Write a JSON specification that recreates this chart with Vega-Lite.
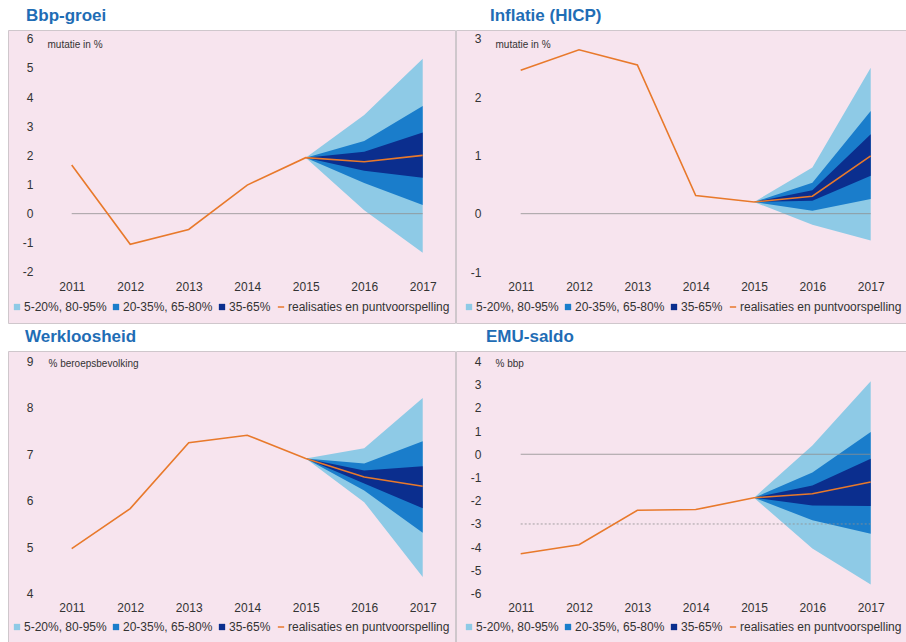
{
  "$schema": "https://vega.github.io/schema/vega-lite/v6.json",
  "padding": {"left": 7, "top": 6, "right": 0, "bottom": 0},
  "background": "white",
  "columns": 2,
  "spacing": {"row": 28, "column": 1},
  "bounds": "flush",
  "resolve": {"scale": {"color": "independent"}, "legend": {"color": "independent"}},
  "datasets": {
    "bbp": [
      {"year": 2011, "value": 1.67, "p5": null, "p20": null, "p35": null, "p65": null, "p80": null, "p95": null},
      {"year": 2012, "value": -1.05, "p5": null, "p20": null, "p35": null, "p65": null, "p80": null, "p95": null},
      {"year": 2013, "value": -0.54, "p5": null, "p20": null, "p35": null, "p65": null, "p80": null, "p95": null},
      {"year": 2014, "value": 0.98, "p5": null, "p20": null, "p35": null, "p65": null, "p80": null, "p95": null},
      {"year": 2015, "value": 1.92, "p5": 1.92, "p20": 1.92, "p35": 1.92, "p65": 1.92, "p80": 1.92, "p95": 1.92},
      {"year": 2016, "value": 1.78, "p5": 0.12, "p20": 1.05, "p35": 1.47, "p65": 2.12, "p80": 2.49, "p95": 3.38},
      {"year": 2017, "value": 2.0, "p5": -1.34, "p20": 0.3, "p35": 1.23, "p65": 2.78, "p80": 3.69, "p95": 5.31}
    ],
    "hicp": [
      {"year": 2011, "value": 2.46, "p5": null, "p20": null, "p35": null, "p65": null, "p80": null, "p95": null},
      {"year": 2012, "value": 2.81, "p5": null, "p20": null, "p35": null, "p65": null, "p80": null, "p95": null},
      {"year": 2013, "value": 2.55, "p5": null, "p20": null, "p35": null, "p65": null, "p80": null, "p95": null},
      {"year": 2014, "value": 0.31, "p5": null, "p20": null, "p35": null, "p65": null, "p80": null, "p95": null},
      {"year": 2015, "value": 0.2, "p5": 0.2, "p20": 0.2, "p35": 0.2, "p65": 0.2, "p80": 0.2, "p95": 0.2},
      {"year": 2016, "value": 0.3, "p5": -0.19, "p20": 0.05, "p35": 0.22, "p65": 0.4, "p80": 0.53, "p95": 0.79},
      {"year": 2017, "value": 0.99, "p5": -0.46, "p20": 0.25, "p35": 0.65, "p65": 1.36, "p80": 1.76, "p95": 2.5}
    ],
    "werk": [
      {"year": 2011, "value": 4.97, "p5": null, "p20": null, "p35": null, "p65": null, "p80": null, "p95": null},
      {"year": 2012, "value": 5.83, "p5": null, "p20": null, "p35": null, "p65": null, "p80": null, "p95": null},
      {"year": 2013, "value": 7.25, "p5": null, "p20": null, "p35": null, "p65": null, "p80": null, "p95": null},
      {"year": 2014, "value": 7.41, "p5": null, "p20": null, "p35": null, "p65": null, "p80": null, "p95": null},
      {"year": 2015, "value": 6.91, "p5": 6.91, "p20": 6.91, "p35": 6.91, "p65": 6.91, "p80": 6.91, "p95": 6.91},
      {"year": 2016, "value": 6.51, "p5": 5.97, "p20": 6.22, "p35": 6.37, "p65": 6.65, "p80": 6.8, "p95": 7.13},
      {"year": 2017, "value": 6.31, "p5": 4.36, "p20": 5.31, "p35": 5.84, "p65": 6.74, "p80": 7.28, "p95": 8.21}
    ],
    "emu": [
      {"year": 2011, "value": -4.28, "p5": null, "p20": null, "p35": null, "p65": null, "p80": null, "p95": null},
      {"year": 2012, "value": -3.89, "p5": null, "p20": null, "p35": null, "p65": null, "p80": null, "p95": null},
      {"year": 2013, "value": -2.41, "p5": null, "p20": null, "p35": null, "p65": null, "p80": null, "p95": null},
      {"year": 2014, "value": -2.38, "p5": null, "p20": null, "p35": null, "p65": null, "p80": null, "p95": null},
      {"year": 2015, "value": -1.87, "p5": -1.87, "p20": -1.87, "p35": -1.87, "p65": -1.87, "p80": -1.87, "p95": -1.87},
      {"year": 2016, "value": -1.7, "p5": -4.06, "p20": -2.84, "p35": -2.2, "p65": -1.34, "p80": -0.79, "p95": 0.38},
      {"year": 2017, "value": -1.19, "p5": -5.6, "p20": -3.42, "p35": -2.23, "p65": -0.19, "p80": 0.96, "p95": 3.14}
    ],
    "ref0": [{"ref": 0, "from": 2011, "to": 2017}],
    "refm3": [{"ref": -3, "from": 2011, "to": 2017}]
  },
  "concat": [
    {
      "title": {"text": "Bbp-groei", "dx": 18},
      "width": 447,
      "height": 293,
      "data": {"name": "bbp"},
      "layer": [
        {
          "transform": [{"filter": "datum.p5 != null"}],
          "mark": {"type": "area"},
          "encoding": {
            "x": {"field": "year", "type": "quantitative", "scale": {"domain": [2009.911, 2017.552], "nice": false, "zero": false},
              "axis": {"values": [2011, 2012, 2013, 2014, 2015, 2016, 2017], "tickCount": 7, "format": "d", "offset": -37, "labelPadding": 0, "tickSize": 0, "labelBaseline": "middle", "title": null, "labelOverlap": false}},
            "y": {"field": "p5", "type": "quantitative", "scale": {"domain": [-3.749, 6.298], "nice": false, "zero": false},
              "axis": {"values": [-2, -1, 0, 1, 2, 3, 4, 5, 6], "tickCount": 9, "labelOverlap": false, "offset": -27, "labelPadding": 2, "tickSize": 0, "labelExpr": "'' + datum.value", "title": "mutatie in %", "titleX": 12, "titleY": 14}},
            "y2": {"field": "p95"},
            "color": {"datum": "5-20%, 80-95%", "type": "nominal",
              "scale": {"domain": ["5-20%, 80-95%", "20-35%, 65-80%", "35-65%", "realisaties en puntvoorspelling"], "range": ["#8ecae6", "#1a7dcb", "#0b2e8e", "#e8792b"]},
              "legend": {"title": null, "legendX": 3, "legendY": 271, "encode": {"symbols": {"update": {
                "shape": {"signal": "datum.value === 'realisaties en puntvoorspelling' ? 'stroke' : 'square'"},
                "fill": {"signal": "datum.value === '35-65%' ? '#0b2e8e' : datum.value === '20-35%, 65-80%' ? '#1a7dcb' : datum.value === '5-20%, 80-95%' ? '#8ecae6' : 'transparent'"},
                "stroke": {"signal": "datum.value === 'realisaties en puntvoorspelling' ? '#e8792b' : 'transparent'"},
                "strokeWidth": {"signal": "datum.value === 'realisaties en puntvoorspelling' ? 1.5 : 0"}}}}}}
          }
        },
        {
          "transform": [{"filter": "datum.p5 != null"}],
          "mark": {"type": "area"},
          "encoding": {"x": {"field": "year", "type": "quantitative"}, "y": {"field": "p20", "type": "quantitative"}, "y2": {"field": "p80"}, "color": {"datum": "20-35%, 65-80%", "type": "nominal"}}
        },
        {
          "transform": [{"filter": "datum.p5 != null"}],
          "mark": {"type": "area"},
          "encoding": {"x": {"field": "year", "type": "quantitative"}, "y": {"field": "p35", "type": "quantitative"}, "y2": {"field": "p65"}, "color": {"datum": "35-65%", "type": "nominal"}}
        },
        {
          "data": {"name": "ref0"},
          "mark": {"type": "rule", "color": "#8f8f8f", "strokeWidth": 0.8},
          "encoding": {"x": {"field": "from", "type": "quantitative"}, "x2": {"field": "to"}, "y": {"field": "ref", "type": "quantitative"}}
        },
        {
          "mark": {"type": "line", "strokeWidth": 1.6},
          "encoding": {"x": {"field": "year", "type": "quantitative"}, "y": {"field": "value", "type": "quantitative"}, "color": {"datum": "realisaties en puntvoorspelling", "type": "nominal"}}
        }
      ]
    },
    {
      "title": {"text": "Inflatie (HICP)", "dx": 34},
      "width": 451,
      "height": 293,
      "data": {"name": "hicp"},
      "layer": [
        {
          "transform": [{"filter": "datum.p5 != null"}],
          "mark": {"type": "area"},
          "encoding": {
            "x": {"field": "year", "type": "quantitative", "scale": {"domain": [2009.891, 2017.622], "nice": false, "zero": false},
              "axis": {"values": [2011, 2012, 2013, 2014, 2015, 2016, 2017], "tickCount": 7, "format": "d", "offset": -37, "labelPadding": 0, "tickSize": 0, "labelBaseline": "middle", "title": null, "labelOverlap": false}},
            "y": {"field": "p5", "type": "quantitative", "scale": {"domain": [-1.874, 3.149], "nice": false, "zero": false},
              "axis": {"values": [-1, 0, 1, 2, 3], "tickCount": 5, "labelOverlap": false, "offset": -27, "labelPadding": 2, "tickSize": 0, "labelExpr": "'' + datum.value", "title": "mutatie in %", "titleX": 12, "titleY": 14}},
            "y2": {"field": "p95"},
            "color": {"datum": "5-20%, 80-95%", "type": "nominal",
              "scale": {"domain": ["5-20%, 80-95%", "20-35%, 65-80%", "35-65%", "realisaties en puntvoorspelling"], "range": ["#8ecae6", "#1a7dcb", "#0b2e8e", "#e8792b"]},
              "legend": {"title": null, "legendX": 7, "legendY": 271, "encode": {"symbols": {"update": {
                "shape": {"signal": "datum.value === 'realisaties en puntvoorspelling' ? 'stroke' : 'square'"},
                "fill": {"signal": "datum.value === '35-65%' ? '#0b2e8e' : datum.value === '20-35%, 65-80%' ? '#1a7dcb' : datum.value === '5-20%, 80-95%' ? '#8ecae6' : 'transparent'"},
                "stroke": {"signal": "datum.value === 'realisaties en puntvoorspelling' ? '#e8792b' : 'transparent'"},
                "strokeWidth": {"signal": "datum.value === 'realisaties en puntvoorspelling' ? 1.5 : 0"}}}}}}
          }
        },
        {
          "transform": [{"filter": "datum.p5 != null"}],
          "mark": {"type": "area"},
          "encoding": {"x": {"field": "year", "type": "quantitative"}, "y": {"field": "p20", "type": "quantitative"}, "y2": {"field": "p80"}, "color": {"datum": "20-35%, 65-80%", "type": "nominal"}}
        },
        {
          "transform": [{"filter": "datum.p5 != null"}],
          "mark": {"type": "area"},
          "encoding": {"x": {"field": "year", "type": "quantitative"}, "y": {"field": "p35", "type": "quantitative"}, "y2": {"field": "p65"}, "color": {"datum": "35-65%", "type": "nominal"}}
        },
        {
          "data": {"name": "ref0"},
          "mark": {"type": "rule", "color": "#8f8f8f", "strokeWidth": 0.8},
          "encoding": {"x": {"field": "from", "type": "quantitative"}, "x2": {"field": "to"}, "y": {"field": "ref", "type": "quantitative"}}
        },
        {
          "mark": {"type": "line", "strokeWidth": 1.6},
          "encoding": {"x": {"field": "year", "type": "quantitative"}, "y": {"field": "value", "type": "quantitative"}, "color": {"datum": "realisaties en puntvoorspelling", "type": "nominal"}}
        }
      ]
    },
    {
      "title": {"text": "Werkloosheid", "dx": 17},
      "width": 447,
      "height": 292,
      "data": {"name": "werk"},
      "layer": [
        {
          "transform": [{"filter": "datum.p5 != null"}],
          "mark": {"type": "area"},
          "encoding": {
            "x": {"field": "year", "type": "quantitative", "scale": {"domain": [2009.911, 2017.552], "nice": false, "zero": false},
              "axis": {"values": [2011, 2012, 2013, 2014, 2015, 2016, 2017], "tickCount": 7, "format": "d", "offset": -36, "labelPadding": 0, "tickSize": 0, "labelBaseline": "middle", "title": null, "labelOverlap": false}},
            "y": {"field": "p5", "type": "quantitative", "scale": {"domain": [2.939, 9.222], "nice": false, "zero": false},
              "axis": {"values": [4, 5, 6, 7, 8, 9], "tickCount": 6, "labelOverlap": false, "offset": -27, "labelPadding": 2, "tickSize": 0, "labelExpr": "'' + datum.value", "title": "% beroepsbevolking", "titleX": 13, "titleY": 12}},
            "y2": {"field": "p95"},
            "color": {"datum": "5-20%, 80-95%", "type": "nominal",
              "scale": {"domain": ["5-20%, 80-95%", "20-35%, 65-80%", "35-65%", "realisaties en puntvoorspelling"], "range": ["#8ecae6", "#1a7dcb", "#0b2e8e", "#e8792b"]},
              "legend": {"title": null, "legendX": 3, "legendY": 270, "encode": {"symbols": {"update": {
                "shape": {"signal": "datum.value === 'realisaties en puntvoorspelling' ? 'stroke' : 'square'"},
                "fill": {"signal": "datum.value === '35-65%' ? '#0b2e8e' : datum.value === '20-35%, 65-80%' ? '#1a7dcb' : datum.value === '5-20%, 80-95%' ? '#8ecae6' : 'transparent'"},
                "stroke": {"signal": "datum.value === 'realisaties en puntvoorspelling' ? '#e8792b' : 'transparent'"},
                "strokeWidth": {"signal": "datum.value === 'realisaties en puntvoorspelling' ? 1.5 : 0"}}}}}}
          }
        },
        {
          "transform": [{"filter": "datum.p5 != null"}],
          "mark": {"type": "area"},
          "encoding": {"x": {"field": "year", "type": "quantitative"}, "y": {"field": "p20", "type": "quantitative"}, "y2": {"field": "p80"}, "color": {"datum": "20-35%, 65-80%", "type": "nominal"}}
        },
        {
          "transform": [{"filter": "datum.p5 != null"}],
          "mark": {"type": "area"},
          "encoding": {"x": {"field": "year", "type": "quantitative"}, "y": {"field": "p35", "type": "quantitative"}, "y2": {"field": "p65"}, "color": {"datum": "35-65%", "type": "nominal"}}
        },
        {
          "mark": {"type": "line", "strokeWidth": 1.6},
          "encoding": {"x": {"field": "year", "type": "quantitative"}, "y": {"field": "value", "type": "quantitative"}, "color": {"datum": "realisaties en puntvoorspelling", "type": "nominal"}}
        }
      ]
    },
    {
      "title": {"text": "EMU-saldo", "dx": 30},
      "width": 451,
      "height": 292,
      "data": {"name": "emu"},
      "layer": [
        {
          "transform": [{"filter": "datum.p5 != null"}],
          "mark": {"type": "area"},
          "encoding": {
            "x": {"field": "year", "type": "quantitative", "scale": {"domain": [2009.891, 2017.622], "nice": false, "zero": false},
              "axis": {"values": [2011, 2012, 2013, 2014, 2015, 2016, 2017], "tickCount": 7, "format": "d", "offset": -36, "labelPadding": 0, "tickSize": 0, "labelBaseline": "middle", "title": null, "labelOverlap": false}},
            "y": {"field": "p5", "type": "quantitative", "scale": {"domain": [-8.121, 4.443], "nice": false, "zero": false},
              "axis": {"values": [-6, -5, -4, -3, -2, -1, 0, 1, 2, 3, 4], "tickCount": 11, "labelOverlap": false, "offset": -27, "labelPadding": 2, "tickSize": 0, "labelExpr": "'' + datum.value", "title": "% bbp", "titleX": 12, "titleY": 12}},
            "y2": {"field": "p95"},
            "color": {"datum": "5-20%, 80-95%", "type": "nominal",
              "scale": {"domain": ["5-20%, 80-95%", "20-35%, 65-80%", "35-65%", "realisaties en puntvoorspelling"], "range": ["#8ecae6", "#1a7dcb", "#0b2e8e", "#e8792b"]},
              "legend": {"title": null, "legendX": 7, "legendY": 270, "encode": {"symbols": {"update": {
                "shape": {"signal": "datum.value === 'realisaties en puntvoorspelling' ? 'stroke' : 'square'"},
                "fill": {"signal": "datum.value === '35-65%' ? '#0b2e8e' : datum.value === '20-35%, 65-80%' ? '#1a7dcb' : datum.value === '5-20%, 80-95%' ? '#8ecae6' : 'transparent'"},
                "stroke": {"signal": "datum.value === 'realisaties en puntvoorspelling' ? '#e8792b' : 'transparent'"},
                "strokeWidth": {"signal": "datum.value === 'realisaties en puntvoorspelling' ? 1.5 : 0"}}}}}}
          }
        },
        {
          "transform": [{"filter": "datum.p5 != null"}],
          "mark": {"type": "area"},
          "encoding": {"x": {"field": "year", "type": "quantitative"}, "y": {"field": "p20", "type": "quantitative"}, "y2": {"field": "p80"}, "color": {"datum": "20-35%, 65-80%", "type": "nominal"}}
        },
        {
          "transform": [{"filter": "datum.p5 != null"}],
          "mark": {"type": "area"},
          "encoding": {"x": {"field": "year", "type": "quantitative"}, "y": {"field": "p35", "type": "quantitative"}, "y2": {"field": "p65"}, "color": {"datum": "35-65%", "type": "nominal"}}
        },
        {
          "data": {"name": "ref0"},
          "mark": {"type": "rule", "color": "#8f8f8f", "strokeWidth": 0.8},
          "encoding": {"x": {"field": "from", "type": "quantitative"}, "x2": {"field": "to"}, "y": {"field": "ref", "type": "quantitative"}}
        },
        {
          "data": {"name": "refm3"},
          "mark": {"type": "rule", "color": "#8f8f8f", "strokeWidth": 0.8, "strokeDash": [2, 2]},
          "encoding": {"x": {"field": "from", "type": "quantitative"}, "x2": {"field": "to"}, "y": {"field": "ref", "type": "quantitative"}}
        },
        {
          "mark": {"type": "line", "strokeWidth": 1.6},
          "encoding": {"x": {"field": "year", "type": "quantitative"}, "y": {"field": "value", "type": "quantitative"}, "color": {"datum": "realisaties en puntvoorspelling", "type": "nominal"}}
        }
      ]
    }
  ],
  "config": {
    "font": "Liberation Sans",
    "view": {"fill": "#f7e4ee", "stroke": "#cfc7cc", "strokeWidth": 1},
    "title": {"anchor": "start", "font": "Liberation Sans", "fontSize": 17, "fontWeight": "bold", "color": "#1f6db5", "offset": 5},
    "axis": {"domain": false, "ticks": false, "grid": false, "labelOverlap": false, "labelFont": "Liberation Sans", "labelFontSize": 12, "labelColor": "#333333",
      "titleFont": "Liberation Sans", "titleFontSize": 10, "titleFontWeight": "normal", "titleColor": "#333333", "titleAngle": 0, "titleAlign": "left", "titleBaseline": "middle"},
    "legend": {"orient": "none", "direction": "horizontal", "padding": 0, "labelFont": "Liberation Sans", "labelFontSize": 12, "labelColor": "#333333", "labelLimit": 300, "symbolSize": 40, "symbolType": "square", "columnPadding": 3, "labelOffset": 1}
  }
}
